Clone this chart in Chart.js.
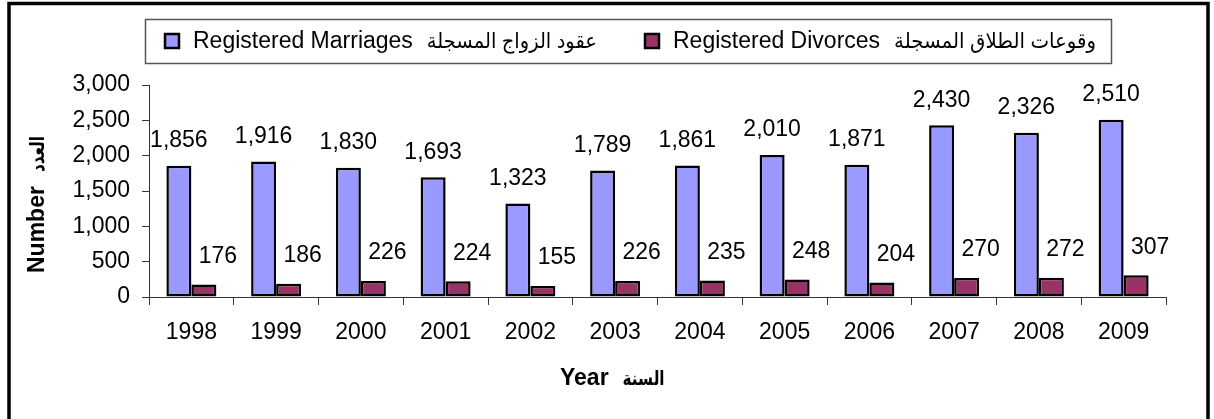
<!DOCTYPE html>
<html>
<head>
<meta charset="utf-8">
<script src="https://cdn.jsdelivr.net/npm/chart.js@4.4.1/dist/chart.umd.min.js"></script>
<style>
html,body{margin:0;padding:0;background:#fff;overflow:hidden}
#wrap{position:relative;width:1214px;height:419px}
</style>
</head>
<body>
<div id="wrap"><canvas id="c" width="1214" height="419"></canvas></div>
<script>
// ---- data ----
const years = ['1998','1999','2000','2001','2002','2003','2004','2005','2006','2007','2008','2009'];
const marriages = [1856,1916,1830,1693,1323,1789,1861,2010,1871,2430,2326,2510];
const divorces  = [176,186,226,224,155,226,235,248,204,270,272,307];
const yMin = 0, yMax = 3000, yStep = 500;
const marriageEn = 'Registered Marriages';
const marriageAr = 'عقود الزواج المسجلة';
const divorceEn  = 'Registered Divorces';
const divorceAr  = 'وقوعات الطلاق المسجلة';
const xTitleEn = 'Year';
const xTitleAr = 'السنة';
const yTitleEn = 'Number';
const yTitleAr = 'العدد';

// ---- styles ----
const FAMILY = 'Arial, "Liberation Sans", "DejaVu Sans", sans-serif';
const FS = 23;
const marriageColor = '#9999FF';
const divorceColor = '#993366';
const axisColor = '#333333';

const fmt = v => v.toLocaleString('en-US');

// draws "english  arabic" with arabic part fitted to a width
function drawMixed(ctx, en, ar, x, y, bold, arSize, arWidth) {
  const w = bold ? 'bold ' : '';
  ctx.font = w + FS + 'px ' + FAMILY;
  ctx.textAlign = 'left';
  ctx.fillText(en, x, y);
  const ew = ctx.measureText(en).width;
  ctx.font = w + arSize + 'px ' + FAMILY;
  ctx.fillText(ar, x + ew + 14, y, arWidth);
}

const decor = {
  id: 'decor',
  afterDraw(chart) {
    const ctx = chart.ctx;
    ctx.save();
    // outer frame
    ctx.strokeStyle = '#000';
    ctx.lineWidth = 3.5;
    ctx.strokeRect(9, 3.5, 1199, 440);

    // legend box
    ctx.strokeStyle = '#555';
    ctx.lineWidth = 1.5;
    ctx.strokeRect(145.5, 19.5, 966, 44);
    const ds = chart.data.datasets;
    const items = [
      {x: 165, en: marriageEn, ar: marriageAr, arW: 170, color: ds[0].backgroundColor},
      {x: 645, en: divorceEn, ar: divorceAr, arW: 202, color: ds[1].backgroundColor}
    ];
    ctx.textBaseline = 'middle';
    items.forEach(it => {
      ctx.fillStyle = it.color;
      ctx.fillRect(it.x, 34, 14, 14);
      ctx.strokeStyle = '#000';
      ctx.lineWidth = 2.5;
      ctx.strokeRect(it.x, 34, 14, 14);
      ctx.fillStyle = '#000';
      drawMixed(ctx, it.en, it.ar, it.x + 28, 42, false, 21, it.arW);
    });

    // data labels
    ctx.fillStyle = '#000';
    ctx.font = FS + 'px ' + FAMILY;
    ctx.textAlign = 'center';
    ctx.textBaseline = 'middle';
    chart.getDatasetMeta(0).data.forEach((el, i) => {
      ctx.fillText(fmt(ds[0].data[i]), el.x, el.y - 25);
    });
    chart.getDatasetMeta(1).data.forEach((el, i) => {
      ctx.fillText(fmt(ds[1].data[i]), el.x + 14, el.y - 28);
    });

    // axis titles
    drawMixed(ctx, xTitleEn, xTitleAr, 560, 379, true, 20, 42);
    ctx.save();
    ctx.translate(38, 273);
    ctx.rotate(-Math.PI / 2);
    drawMixed(ctx, yTitleEn, yTitleAr, 0, 0, true, 20, 36);
    ctx.restore();
    ctx.restore();
  }
};

new Chart(document.getElementById('c'), {
  type: 'bar',
  data: {
    labels: years,
    datasets: [
      {label: marriageEn + '  ' + marriageAr, data: marriages, backgroundColor: marriageColor, borderColor: '#000', borderWidth: 2.5, borderSkipped: false},
      {label: divorceEn + '  ' + divorceAr, data: divorces, backgroundColor: divorceColor, borderColor: '#000', borderWidth: 2.5, borderSkipped: false}
    ]
  },
  options: {
    responsive: false,
    animation: false,
    devicePixelRatio: 1,
    categoryPercentage: 0.59,
    barPercentage: 1.0,
    layout: {padding: {top: 85, right: 48, left: 0, bottom: 0}},
    plugins: {legend: {display: false}, title: {display: false}, tooltip: {enabled: false}},
    scales: {
      x: {
        grid: {display: true, drawOnChartArea: false, offset: true, tickLength: 8, color: axisColor, lineWidth: 1},
        border: {display: true, color: axisColor, width: 1},
        ticks: {color: '#000', font: {family: FAMILY, size: FS}, padding: 14, maxRotation: 0},
        afterFit(s) { s.height = 122; }
      },
      y: {
        min: yMin, max: yMax,
        grid: {display: true, drawOnChartArea: false, tickLength: 7, color: axisColor, lineWidth: 1},
        border: {display: true, color: axisColor, width: 1},
        ticks: {stepSize: yStep, color: '#000', font: {family: FAMILY, size: FS}, padding: 12, callback: v => fmt(v)},
        afterFit(s) { s.width = 149; }
      }
    }
  },
  plugins: [decor]
});
</script>
</body>
</html>
